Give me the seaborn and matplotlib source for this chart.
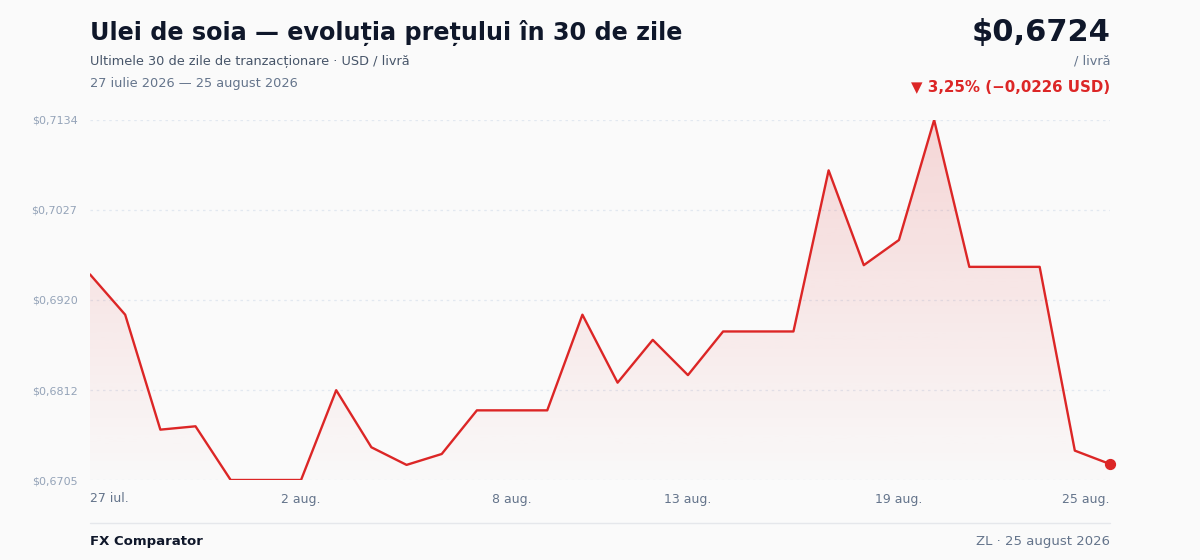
import matplotlib
matplotlib.use("Agg")
import matplotlib.pyplot as plt
import numpy as np
import pandas as pd
import seaborn as sns
from matplotlib.patches import Polygon

# daily closes, 27 Jul - 25 Aug 2026 (USD / lb)
days = list(range(30))
prices = [
    0.6950, 0.6902, 0.6765, 0.6769, 0.6705, 0.6705, 0.6705, 0.6812, 0.6744, 0.6723,
    0.6736, 0.6788, 0.6788, 0.6788, 0.6902, 0.6821, 0.6872, 0.6830, 0.6882, 0.6882,
    0.6882, 0.7074, 0.6961, 0.6991, 0.7134, 0.6959, 0.6959, 0.6959, 0.6740, 0.6724,
]
tick_days = [0, 6, 12, 17, 23, 29]
tick_labels = ["27 iul.", "2 aug.", "8 aug.", "13 aug.", "19 aug.", "25 aug."]
y_ticks = [0.6705, 0.6812, 0.6920, 0.7027, 0.7134]

RED = "#dc2626"
BG = "#fafafa"

sns.set_theme(style="white")
plt.rcParams["font.family"] = ["DejaVu Sans"]

df = pd.DataFrame({"day": days, "price": prices})

fig = plt.figure(figsize=(12, 5.6), dpi=100, facecolor=BG)
ax = fig.add_axes([90 / 1200, 1 - 480 / 560, 1020 / 1200, 360 / 560])
ax.set_facecolor(BG)

ymin, ymax = min(y_ticks), max(y_ticks)
ax.set_xlim(days[0], days[-1])

# gradient fill under the line
grad = np.linspace(0.17, 0.0, 256).reshape(-1, 1)
rgba = np.zeros((256, 1, 4))
rgba[..., :3] = matplotlib.colors.to_rgb(RED)
rgba[..., 3] = grad
img = ax.imshow(rgba, aspect="auto", extent=[days[0], days[-1], ymin - 0.002, ymax],
                origin="upper", zorder=1)
verts = [(days[0], ymin - 0.002)] + list(zip(days, prices)) + [(days[-1], ymin - 0.002)]
clip = Polygon(verts, closed=True, transform=ax.transData, facecolor="none", edgecolor="none")
ax.add_patch(clip)
img.set_clip_path(clip)
ax.set_ylim(ymin, ymax)

for yt in y_ticks:
    ax.axhline(yt, color="#e2e8f0", lw=0.9, ls=(0, (2, 3)), zorder=0)

sns.lineplot(data=df, x="day", y="price", ax=ax, color=RED, lw=1.7, zorder=3)
ax.scatter([days[-1]], [prices[-1]], s=50, color=RED, zorder=4, clip_on=False)

ax.set_yticks(y_ticks)
ax.set_yticklabels([f"${v:.4f}".replace(".", ",") for v in y_ticks], color="#94a3b8", fontsize=8)
ax.set_xticks(tick_days)
ax.set_xticklabels(tick_labels, color="#64748b", fontsize=9)
xt = ax.get_xticklabels()
xt[0].set_ha("left")
xt[-1].set_ha("right")
ax.tick_params(axis="y", length=0, pad=9)
ax.tick_params(axis="x", length=0, pad=9)
ax.set_xlabel("")
ax.set_ylabel("")
for s in ax.spines.values():
    s.set_visible(False)

# header
fig.text(90 / 1200, 1 - 33 / 560, "Ulei de soia — evoluția prețului în 30 de zile",
         fontsize=17.2, fontweight="bold", color="#0f172a", va="center", ha="left")
fig.text(90 / 1200, 1 - 61 / 560, "Ultimele 30 de zile de tranzacționare · USD / livră",
         fontsize=9.25, color="#475569", va="center", ha="left")
fig.text(90 / 1200, 1 - 83 / 560, "27 iulie 2026 — 25 august 2026",
         fontsize=9.3, color="#64748b", va="center", ha="left")
fig.text(1110 / 1200, 1 - 32 / 560, "$0,6724", fontsize=22, fontweight="bold",
         color="#0f172a", va="center", ha="right")
fig.text(1110 / 1200, 1 - 61 / 560, "/ livră", fontsize=9.3, color="#64748b",
         va="center", ha="right")
fig.text(1110 / 1200, 1 - 87 / 560, "▼ 3,25% (−0,0226 USD)", fontsize=10.8,
         fontweight="bold", color=RED, va="center", ha="right")

# footer
fig.add_artist(plt.Line2D([90 / 1200, 1110 / 1200], [1 - 523 / 560] * 2,
                          color="#e5e7eb", lw=1, transform=fig.transFigure))
fig.text(90 / 1200, 1 - 541 / 560, "FX Comparator", fontsize=9.5, fontweight="bold",
         color="#0f172a", va="center", ha="left")
fig.text(1110 / 1200, 1 - 541 / 560, "ZL · 25 august 2026", fontsize=9.5,
         color="#64748b", va="center", ha="right")

fig.savefig("out.png", dpi=100, facecolor=BG)
